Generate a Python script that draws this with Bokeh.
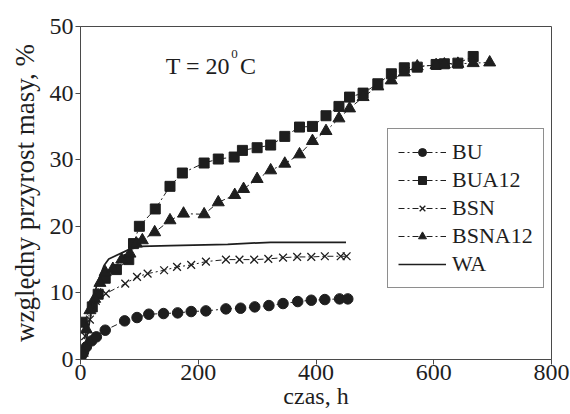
from bokeh.plotting import figure
from bokeh.models import Range1d, Label, Legend, LegendItem, FixedTicker
from bokeh.embed import file_html
from bokeh.resources import INLINE

# ---- data ----
BU_t = [2, 5, 10, 19, 27, 42, 75, 96, 116, 141, 165, 188, 213, 247, 272, 296, 320, 344, 369, 392, 415, 440, 454]
BU_v = [0.6, 1.1, 1.9, 2.8, 3.4, 4.4, 5.8, 6.3, 6.8, 6.9, 7.0, 7.2, 7.3, 7.6, 7.7, 7.9, 8.1, 8.4, 8.7, 8.9, 9.0, 9.1, 9.1]

BUA12_t = [3, 20, 30, 42, 61, 82, 90, 100, 127, 152, 173, 210, 234, 261, 275, 300, 323, 347, 372, 394, 417, 439, 457,
           480, 505, 528, 550, 572, 604, 618, 641, 667]
BUA12_v = [5.6, 7.9, 9.8, 12.2, 13.5, 15.0, 17.4, 20.0, 22.6, 26.0, 28.0, 29.5, 30.1, 30.4, 31.4, 31.8, 32.2, 33.5, 34.9,
           35.0, 36.6, 38.0, 39.4, 40.0, 41.4, 42.9, 43.8, 43.9, 44.3, 44.4, 44.5, 45.5]

BSN_t = [2, 8, 16, 26, 43, 76, 96, 114, 142, 164, 188, 213, 247, 270, 295, 319, 344, 368, 392, 415, 442, 452]
BSN_v = [1.0, 3.5, 6.0, 8.8, 9.9, 11.4, 12.4, 12.9, 13.4, 13.9, 14.2, 14.7, 15.0, 15.0, 15.0, 15.1, 15.3, 15.4, 15.4,
         15.5, 15.5, 15.5]

BSNA12_t = [3, 10, 16, 24, 33, 42, 55, 70, 84, 95, 105, 126, 152, 175, 210, 234, 262, 277, 300, 323, 347, 372, 394, 417,
            439, 457, 480, 505, 528, 550, 572, 604, 618, 641, 667, 695]
BSNA12_v = [1.0, 4.5, 7.4, 9.1, 11.5, 13.1, 13.6, 15.0, 15.9, 17.4, 17.9, 19.1, 20.9, 21.9, 21.8, 23.6, 24.7, 25.6, 27.1,
            28.4, 29.4, 30.8, 32.8, 34.3, 36.2, 37.7, 39.4, 41.0, 41.9, 43.1, 44.0, 44.2, 44.3, 44.4, 44.5, 44.6]

WA_t = [0, 5, 11, 20, 28, 40, 48, 82, 102, 153, 250, 323, 451]
WA_v = [0.0, 1.5, 3.4, 8.0, 11.4, 14.1, 15.1, 16.5, 17.0, 17.1, 17.3, 17.6, 17.6]

x_ticks = [0, 200, 400, 600, 800]
y_ticks = [0, 10, 20, 30, 40, 50]

FONT = "'Liberation Serif', 'Times New Roman', Times, serif"
INK = "#1e1e1e"
FRAME = "#4a4a4a"

p = figure(width=570, height=414, output_backend="svg", toolbar_location=None,
           x_range=Range1d(0, 800), y_range=Range1d(0, 50),
           min_border_left=80, min_border_right=19, min_border_top=26, min_border_bottom=55)
p.background_fill_color = "white"
p.border_fill_color = "white"
p.outline_line_color = FRAME
p.outline_line_width = 1
p.xgrid.visible = False
p.ygrid.visible = False

for ax, ticks in ((p.xaxis, x_ticks), (p.yaxis, y_ticks)):
    ax.ticker = FixedTicker(ticks=ticks)
    ax.axis_line_color = FRAME
    ax.major_tick_line_color = FRAME
    ax.major_tick_out = 5
    ax.major_tick_in = 0
    ax.minor_tick_line_color = None
    ax.major_label_text_font = FONT
    ax.major_label_text_font_size = "24px"
    ax.major_label_text_color = INK
    ax.axis_label_text_font = FONT
    ax.axis_label_text_font_style = "normal"
    ax.axis_label_text_color = INK

p.xaxis.major_label_standoff = 0
p.xaxis.axis_label = "czas, h"
p.xaxis.axis_label_text_font_size = "24px"
p.xaxis.axis_label_standoff = 0
p.yaxis.major_label_standoff = 2
p.yaxis.axis_label = "względny przyrost masy, %"
p.yaxis.axis_label_text_font_size = "27px"
p.yaxis.axis_label_standoff = 7

dash = "6 3 2 3"
r_bu_l = p.line(BU_t, BU_v, line_color=INK, line_width=1, line_dash=dash)
r_bu_m = p.scatter(BU_t, BU_v, marker="circle", size=10.5, fill_color=INK, line_color=INK)
r_bua_l = p.line(BUA12_t, BUA12_v, line_color=INK, line_width=1, line_dash=dash)
r_bua_m = p.scatter(BUA12_t, BUA12_v, marker="square", size=10, fill_color=INK, line_color=INK)
r_bsn_l = p.line(BSN_t, BSN_v, line_color=INK, line_width=1, line_dash=dash)
r_bsn_m = p.scatter(BSN_t, BSN_v, marker="x", size=11, line_color=INK, line_width=1.3)
r_bsna_l = p.line(BSNA12_t, BSNA12_v, line_color=INK, line_width=1, line_dash=dash)
r_bsna_m = p.scatter(BSNA12_t, BSNA12_v, marker="triangle", size=12, fill_color=INK, line_color=INK)
r_wa = p.line(WA_t, WA_v, line_color=INK, line_width=1.7)

legend = Legend(items=[
    LegendItem(label="BU", renderers=[r_bu_l, r_bu_m]),
    LegendItem(label="BUA12", renderers=[r_bua_l, r_bua_m]),
    LegendItem(label="BSN", renderers=[r_bsn_l, r_bsn_m]),
    LegendItem(label="BSNA12", renderers=[r_bsna_l, r_bsna_m]),
    LegendItem(label="WA", renderers=[r_wa]),
], location=(307, 71))
legend.margin = 0
legend.padding = 10
legend.spacing = 2
legend.glyph_width = 48
legend.glyph_height = 20
legend.label_height = 20
legend.label_standoff = 6
legend.label_text_font = FONT
legend.label_text_font_size = "22px"
legend.label_text_color = INK
legend.border_line_color = INK
legend.border_line_width = 1
legend.background_fill_color = "white"
legend.background_fill_alpha = 1
p.add_layout(legend, "center")

# annotation "T = 20 °C" (superscript zero)
p.add_layout(Label(x=144.7, y=44.1, text="T = 20", text_font=FONT, text_font_size="24px",
                   text_color=INK, text_baseline="alphabetic"))
p.add_layout(Label(x=256, y=45.9, text="0", text_font=FONT, text_font_size="13px",
                   text_color=INK, text_baseline="alphabetic"))
p.add_layout(Label(x=271, y=44.1, text="C", text_font=FONT, text_font_size="24px",
                   text_color=INK, text_baseline="alphabetic"))

open("out.html", "w").write(file_html(p, INLINE))
